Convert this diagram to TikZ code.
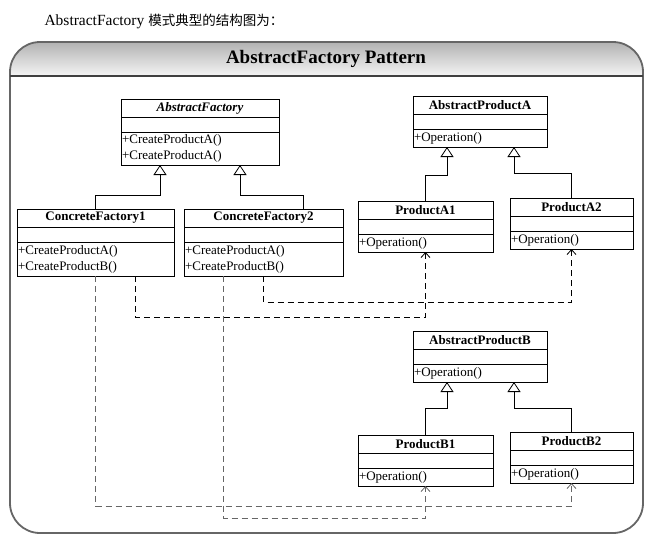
\documentclass[tikz,border=0pt]{standalone}
\usepackage{fontspec}
\setmainfont{Liberation Serif}
\newfontfamily\cjk{Noto Sans CJK SC}
\usepackage{tikz}
\usetikzlibrary{positioning,arrows.meta,calc}

\tikzset{
	cname/.style={draw, line width=0.8pt, outer sep=0pt, inner sep=0pt, minimum width=#1, minimum height=18, font=\fontsize{13}{15}\selectfont\bfseries},
	cattr/.style={draw, line width=0.8pt, outer sep=0pt, inner sep=0pt, minimum width=#1, minimum height=15},
	cops/.style 2 args={draw, line width=0.8pt, outer sep=0pt, inner xsep=1pt, inner ysep=0pt, text width=#1, minimum height=#2, align=left, font=\fontsize{13}{16}\selectfont},
	inherit/.style={-{Triangle[open,length=10pt,width=13pt]}, line width=0.8pt},
	depend/.style={-{Straight Barb[length=5pt,width=9pt]}, dash pattern=on 6pt off 4pt, line width=0.8pt},
}

\begin{document}
\begin{tikzpicture}[x=1pt,y=-1pt]
		\useasboundingbox (0,0) rectangle (652,539);
		\node[anchor=west, font=\fontsize{15.5}{18}\selectfont] (caption) at (41,21) {AbstractFactory {\cjk\fontsize{13.5}{16}\selectfont 模式典型的结构图为：}};
		\begin{scope}
			\clip[rounded corners=30] (10,42) rectangle (643,533);
			\shade[top color=black!30, bottom color=black!4] (10,42) rectangle (643,76);
		\end{scope}
		\draw[black!60, line width=1.8pt, rounded corners=30] (10,42) rectangle (643,533);
		\draw[black!75, line width=1.2pt] (10,76) -- (643,76);
		\node[font=\fontsize{19}{22}\selectfont\bfseries] (hdr) at (326,59) {AbstractFactory Pattern};

		\node[cname=158, anchor=north west] (AF) at (121,99) {\textit{AbstractFactory}};
		\node[cattr=158, below=0pt of AF] (AFa) {};
		\node[cops={156pt}{33}, below=0pt of AFa] (AFm) {+CreateProductA()\\+CreateProductA()};

		\node[cname=157, anchor=north west] (CF1) at (17,209) {ConcreteFactory1};
		\node[cattr=157, below=0pt of CF1] (CF1a) {};
		\node[cops={155pt}{34}, below=0pt of CF1a] (CF1m) {+CreateProductA()\\+CreateProductB()};

		\node[cname=159, anchor=north west] (CF2) at (184,209) {ConcreteFactory2};
		\node[cattr=159, below=0pt of CF2] (CF2a) {};
		\node[cops={157pt}{34}, below=0pt of CF2a] (CF2m) {+CreateProductA()\\+CreateProductB()};

		\node[cname=134, anchor=north west] (APA) at (413,96) {AbstractProductA};
		\node[cattr=134, below=0pt of APA] (APAa) {};
		\node[cops={132pt}{18}, below=0pt of APAa] (APAm) {+Operation()};

		\node[cname=135, anchor=north west] (PA1) at (358,201) {ProductA1};
		\node[cattr=135, below=0pt of PA1] (PA1a) {};
		\node[cops={133pt}{18}, below=0pt of PA1a] (PA1m) {+Operation()};

		\node[cname=123, anchor=north west] (PA2) at (510,198) {ProductA2};
		\node[cattr=123, below=0pt of PA2] (PA2a) {};
		\node[cops={121pt}{18}, below=0pt of PA2a] (PA2m) {+Operation()};

		\node[cname=134, anchor=north west] (APB) at (413,331) {AbstractProductB};
		\node[cattr=134, below=0pt of APB] (APBa) {};
		\node[cops={132pt}{18}, below=0pt of APBa] (APBm) {+Operation()};

		\node[cname=135, anchor=north west] (PB1) at (358,435) {ProductB1};
		\node[cattr=135, below=0pt of PB1] (PB1a) {};
		\node[cops={133pt}{18}, below=0pt of PB1a] (PB1m) {+Operation()};

		\node[cname=123, anchor=north west] (PB2) at (510,432) {ProductB2};
		\node[cattr=123, below=0pt of PB2] (PB2a) {};
		\node[cops={121pt}{18}, below=0pt of PB2a] (PB2m) {+Operation()};

		\draw[inherit] (CF1.north) -- ++(0,-14) -| ($(AFm.south)+(-40,0)$);
		\draw[inherit] ($(CF2.north)+(40,0)$) -- ++(0,-14) -| ($(AFm.south)+(40,0)$);
		\draw[inherit] (PA1.north) -- ++(0,-26) -| ($(APAm.south)+(-33,0)$);
		\draw[inherit] (PA2.north) -- ++(0,-25) -| ($(APAm.south)+(34,0)$);
		\draw[inherit] (PB1.north) -- ++(0,-27) -| ($(APBm.south)+(-33,0)$);
		\draw[inherit] (PB2.north) -- ++(0,-24) -| ($(APBm.south)+(34,0)$);

		\draw[depend] ($(CF1m.south)+(39.5,0)$) -- ++(0,41) -| (PA1m.south);
		\draw[depend] (CF2m.south) -- ++(0,26) -| (PA2m.south);
		\draw[depend, black!60] (CF1m.south) -- ++(0,230) -| (PB2m.south);
		\draw[depend, black!60] ($(CF2m.south)+(-40,0)$) -- ++(0,242) -| (PB1m.south);
\end{tikzpicture}
\end{document}
